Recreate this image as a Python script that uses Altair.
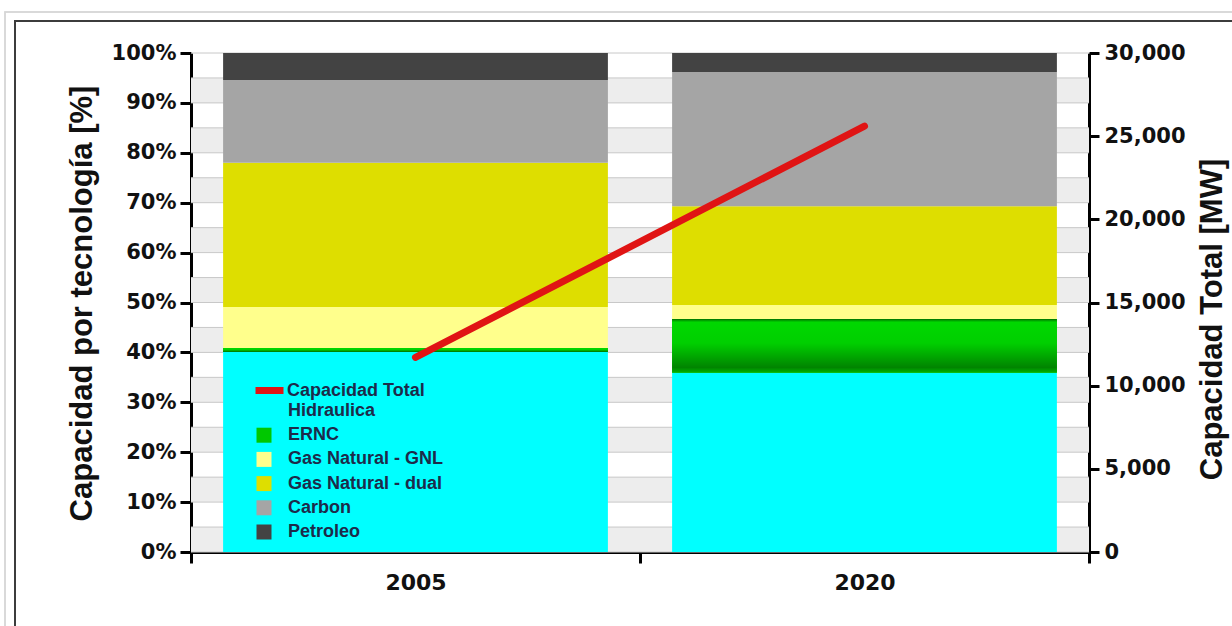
import altair as alt
import pandas as pd

# --- datos -------------------------------------------------------------
anios = ["2005", "2020"]
tecnologias = [
    "Hidraulica",
    "ERNC",
    "Gas Natural - GNL",
    "Gas Natural - dual",
    "Carbon",
    "Petroleo",
]
colores = ["#00ffff", "#00c800", "#ffff8c", "#dede00", "#a5a5a5", "#434343"]

# participación por tecnología [%], de abajo hacia arriba en la barra
pct_2005 = [40.1, 0.8, 8.2, 28.9, 16.6, 5.4]
pct_2020 = [35.9, 10.8, 2.8, 19.8, 26.9, 3.8]

# capacidad instalada total [MW]
capacidad_total = [11700, 25600]

# marcas del eje izquierdo y franjas de fondo (fracción)
ticks_pct = [i / 10 for i in range(11)]
grilla_pct = [i / 20 for i in range(21)]
franjas_inicio = [i / 10 for i in range(10)]
ticks_mw = [0, 5000, 10000, 15000, 20000, 25000, 30000]

# --- tablas ------------------------------------------------------------
filas = []
for anio, valores in zip(anios, [pct_2005, pct_2020]):
    for orden, (tec, v) in enumerate(zip(tecnologias, valores)):
        filas.append({"anio": anio, "tecnologia": tec, "pct": v, "orden": orden})
df = pd.DataFrame(filas)

df_total = pd.DataFrame(
    {"anio": anios, "mw": capacidad_total, "serie": ["Capacidad Total"] * len(anios)}
)
df_franjas = pd.DataFrame({"y0": franjas_inicio, "y1": [v + 0.05 for v in franjas_inicio]})
df_grilla = pd.DataFrame({"y": grilla_pct})

# --- ejes --------------------------------------------------------------
fuente_num = "DejaVu Sans"
fuente_txt = "Liberation Sans"

eje_x = alt.Axis(
    title=None,
    labelAngle=0,
    tickBand="extent",
    domainColor="black",
    domainWidth=3,
    tickColor="black",
    tickWidth=3,
    tickSize=11,
    labelPadding=9,
    labelFont=fuente_num,
    labelFontSize=22,
    labelFontWeight="bold",
    labelColor="#111111",
)
x_enc = alt.X(
    "anio:N",
    scale=alt.Scale(domain=anios, paddingInner=0, paddingOuter=0),
    axis=eje_x,
)

eje_izq = alt.Axis(
    title="Capacidad por tecnología [%]",
    values=ticks_pct,
    format=".0%",
    grid=False,
    domainColor="black",
    domainWidth=3,
    tickColor="black",
    tickWidth=3,
    tickSize=11,
    labelPadding=4,
    labelFont=fuente_num,
    labelFontSize=21,
    labelFontWeight="bold",
    labelColor="#111111",
    titleFont=fuente_txt,
    titleFontSize=31,
    titleFontWeight="bold",
    titleColor="#111111",
    titleAngle=270,
    titleAlign="center",
    titleBaseline="alphabetic",
    titleX=-100,
    titleY=250,
)
escala_pct = alt.Scale(domain=[0, 1], nice=False)

eje_der = alt.Axis(
    title="Capacidad Total [MW]",
    orient="right",
    values=ticks_mw,
    format=",.0f",
    grid=False,
    domainColor="black",
    domainWidth=3,
    tickColor="black",
    tickWidth=3,
    tickSize=10,
    labelPadding=5,
    labelFont=fuente_num,
    labelFontSize=21,
    labelFontWeight="bold",
    labelColor="#111111",
    titleFont=fuente_txt,
    titleFontSize=31,
    titleFontWeight="bold",
    titleColor="#111111",
    titleAngle=270,
    titleAlign="center",
    titleBaseline="alphabetic",
    titleX=132,
    titleY=266,
)

# --- capas -------------------------------------------------------------
marco = alt.Chart(df_total).mark_rect(
    fill=None, stroke="#3c3c3c", strokeWidth=2
).encode(
    x=alt.value(-176), x2=alt.value(1060), y=alt.value(-32), y2=alt.value(600)
)
marco_ext = alt.Chart(df_total).mark_rect(
    fill=None, stroke="#d6d6d6", strokeWidth=1.5
).encode(
    x=alt.value(-186), x2=alt.value(1070), y=alt.value(-41), y2=alt.value(610)
)

franjas = alt.Chart(df_franjas).mark_rect(color="#ededed").encode(
    y=alt.Y("y1:Q", scale=escala_pct, axis=eje_izq),
    y2="y0:Q",
)

grilla = alt.Chart(df_grilla).mark_rule(color="#c8c8c8", strokeWidth=1).encode(
    y=alt.Y("y:Q", scale=escala_pct, axis=eje_izq)
)

ancho_barra = alt.RelativeBandSize(0.857)

barras = alt.Chart(df).mark_bar(width=ancho_barra).encode(
    x=x_enc,
    y=alt.Y("pct:Q", stack="normalize", scale=escala_pct, axis=eje_izq),
    color=alt.Color(
        "tecnologia:N",
        scale=alt.Scale(domain=tecnologias, range=colores),
        legend=alt.Legend(
            title=None,
            orient="none",
            legendX=64,
            legendY=349,
            padding=0,
            symbolType="square",
            symbolSize=225,
            symbolStrokeWidth=0,
            labelFont=fuente_txt,
            labelFontSize=18,
            labelFontWeight="bold",
            labelColor="#1d2b4a",
            labelOffset=15,
            rowPadding=6.2,
        ),
    ),
    order=alt.Order("orden:Q", sort="ascending"),
)

# ERNC con degradado vertical
ernc = (
    alt.Chart(df)
    .transform_stack(
        stack="pct",
        groupby=["anio"],
        sort=[alt.SortField("orden", order="ascending")],
        offset="normalize",
        as_=["v0", "v1"],
    )
    .transform_filter(alt.datum.tecnologia == "ERNC")
    .mark_bar(
        width=ancho_barra,
        color=alt.LinearGradient(
            gradient="linear",
            x1=0, y1=0, x2=0, y2=1,
            stops=[
                alt.GradientStop(color="#006e00", offset=0),
                alt.GradientStop(color="#00d800", offset=0.06),
                alt.GradientStop(color="#00cf00", offset=0.45),
                alt.GradientStop(color="#008400", offset=0.9),
                alt.GradientStop(color="#00b400", offset=1),
            ],
        ),
    )
    .encode(
        x=x_enc,
        y=alt.Y("v1:Q", scale=escala_pct, axis=eje_izq),
        y2="v0:Q",
    )
)

linea = alt.Chart(df_total).mark_line(strokeWidth=7, strokeCap="round").encode(
    x=x_enc,
    y=alt.Y("mw:Q", scale=alt.Scale(domain=[0, 30000], nice=False), axis=eje_der),
    stroke=alt.Stroke(
        "serie:N",
        scale=alt.Scale(domain=["Capacidad Total"], range=["#e01414"]),
        legend=alt.Legend(
            title=None,
            orient="none",
            legendX=61,
            legendY=320,
            padding=0,
            symbolType="stroke",
            symbolSize=784,
            symbolStrokeWidth=7,
            labelFont=fuente_txt,
            labelFontSize=18,
            labelFontWeight="bold",
            labelColor="#1d2b4a",
            labelOffset=0,
        ),
    ),
)

izquierda = alt.layer(marco_ext, marco, franjas, grilla, barras, ernc)

chart = (
    alt.layer(izquierda, linea)
    .resolve_scale(y="independent", color="independent")
    .properties(
        width=898,
        height=499,
        autosize=alt.AutoSizeParams(type="none"),
        padding={"left": 191, "top": 53, "right": 143, "bottom": 74},
        background="white",
    )
    .configure_view(stroke=None)
)

chart.save("out.html", embed_options={"renderer": "svg", "actions": False})
